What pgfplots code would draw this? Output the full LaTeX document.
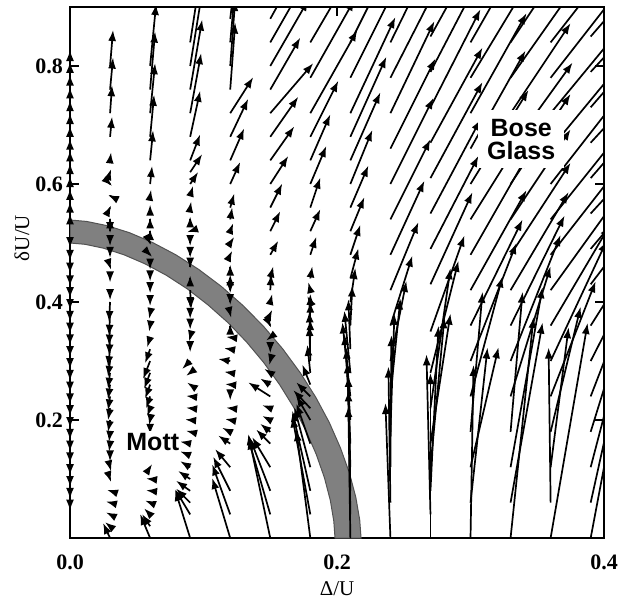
\documentclass[border=0pt]{standalone}
\usepackage{fontspec}
\setmainfont{Liberation Serif}
\newfontfamily\helv{Liberation Sans}
\usepackage{pgfplots}
\pgfplotsset{compat=1.18}
\usetikzlibrary{arrows.meta}

% arrow offsets dx, dy are read in picture pixels (1335 px per unit in x, 590 px per unit in y)
\pgfplotsset{
  flow/.style={
    quiver={u={\thisrow{dx}/1335}, v={\thisrow{dy}/590},
      every arrow/.append style={-{Latex[length=5.5pt,width=4pt]}}},
    black, line width=0.85pt},
  frame/.style={
    scale only axis, width=267pt, height=265.5pt,
    xmin=0, xmax=0.4, ymin=0, ymax=0.9},
}

\begin{document}
\begin{tikzpicture}
\begin{axis}[
  frame,
  axis line style={line width=0.6pt},
  xtick={0,0.2,0.4}, xticklabels={0.0,0.2,0.4},
  ytick={0.2,0.4,0.6,0.8}, yticklabels={0.2,0.4,0.6,0.8},
  tick align=inside, major tick length=4.5pt,
  tick style={line width=0.6pt, black},
  tick label style={font=\bfseries\fontsize{11}{13}\selectfont},
  xticklabel style={yshift=-5pt},
  xlabel={Δ/U}, ylabel={δU/U},
  label style={font=\fontsize{10.5}{12}\selectfont},
  x label style={at={(axis description cs:0.5,-0.096)}, anchor=center},
  y label style={at={(axis description cs:-0.09,0.565)}, anchor=center},
]
\coordinate (bbSW) at (rel axis cs:-0.1311,-0.1149);
\coordinate (bbNE) at (rel axis cs:1.0262,1.0132);

% separatrix band
\addplot[fill=black!50, draw=black!68, line width=0.5pt] coordinates {
 (0.2180,0) (0.2170,0.0306) (0.2141,0.0688) (0.2093,0.1100) (0.2026,0.1526)
 (0.1942,0.1958) (0.1841,0.2385) (0.1724,0.2803) (0.1593,0.3206) (0.1450,0.3586)
 (0.1296,0.3940) (0.1134,0.4263) (0.0965,0.4551) (0.0792,0.4801) (0.0617,0.5010)
 (0.0445,0.5175) (0.0278,0.5294) (0.0124,0.5366) (0,0.5390)
 (0,0.5) (0.0113,0.4978) (0.0253,0.4911) (0.0405,0.4800) (0.0562,0.4647)
 (0.0721,0.4454) (0.0879,0.4222) (0.1032,0.3954) (0.1181,0.3655) (0.1321,0.3326)
 (0.1451,0.2974) (0.1570,0.2600) (0.1676,0.2213) (0.1768,0.1816) (0.1845,0.1416)
 (0.1906,0.1020) (0.1950,0.0638) (0.1976,0.0284) (0.1985,0)
} --cycle;

% column 0.03
\addplot[flow] table[row sep=\\] {x y dx dy\\
0.03 0.00 -7 15\\ 0.03 0.02 -5 4\\ 0.03 0.04 -4 2\\ 0.03 0.06 -4 1\\ 0.03 0.08 -3 1\\
0.03 0.10 1 -3\\ 0.03 0.12 1 -4\\ 0.03 0.14 0 -6\\ 0.03 0.16 -1 -8\\ 0.03 0.18 -1 -10\\
0.03 0.20 -2 -12\\ 0.03 0.22 -2 -12\\ 0.03 0.24 -2 -14\\ 0.03 0.26 -2 -15\\ 0.03 0.28 -2 -16\\
0.03 0.30 -2 -16\\ 0.03 0.32 -2 -18\\ 0.03 0.34 -1 -18\\ 0.03 0.36 -1 -20\\ 0.03 0.38 -1 -22\\
0.03 0.40 -1 -20\\ 0.03 0.42 0 -10\\ 0.03 0.44 0 -4\\ 0.03 0.46 1 -3\\ 0.03 0.48 0 -3\\
0.03 0.50 0 -3\\ 0.03 0.52 0 -2\\ 0.03 0.54 0 2\\ 0.03 0.56 1 2\\ 0.03 0.58 -2 1\\
0.03 0.60 2 -2\\ 0.03 0.62 1 3\\ 0.03 0.64 1 8\\ 0.03 0.68 2 20\\ 0.03 0.72 2 28\\
0.03 0.76 3 32\\ 0.03 0.80 3 36\\
};
% column 0.06
\addplot[flow] table[row sep=\\] {x y dx dy\\
0.06 0.00 -10 24\\ 0.06 0.02 -8 12\\ 0.06 0.04 -6 6\\ 0.06 0.06 -5 2\\ 0.06 0.08 -4 0.5\\
0.06 0.10 -4 0.5\\ 0.06 0.12 2 3\\ 0.06 0.18 0 -3\\ 0.06 0.20 -1 -5\\ 0.06 0.22 -3 -8\\
0.06 0.24 -4 -12\\ 0.06 0.26 -5 -14\\ 0.06 0.28 -6 -16\\ 0.06 0.30 -7 -18\\ 0.06 0.32 -5 -14\\
0.06 0.34 -3 -10\\ 0.06 0.36 -1 -6\\ 0.06 0.38 -1 -5\\ 0.06 0.40 0 -4\\ 0.06 0.42 0 -3\\
0.06 0.44 0 -3\\ 0.06 0.46 0 -3\\ 0.06 0.48 2 -2\\ 0.06 0.50 1 -2\\ 0.06 0.52 0 2\\
0.06 0.54 0 2\\ 0.06 0.56 0 3\\ 0.06 0.58 1 6\\ 0.06 0.60 2 18\\ 0.06 0.64 3 30\\
0.06 0.68 4 42\\ 0.06 0.72 5 50\\ 0.06 0.76 5 58\\ 0.06 0.80 6 62\\
};
% column 0.09
\addplot[flow] table[row sep=\\] {x y dx dy\\
0.09 0.00 -15 48\\ 0.09 0.04 -15 25\\ 0.09 0.06 -14 14\\ 0.09 0.08 -14 10\\
0.09 0.10 -12 8\\ 0.09 0.12 -10 6\\ 0.09 0.14 -10 4\\ 0.09 0.16 -10 2\\ 0.09 0.18 -4 1\\
0.09 0.20 -5 0.5\\ 0.09 0.22 -4 0.5\\ 0.09 0.24 -4 0.5\\ 0.09 0.26 -3 2\\ 0.09 0.28 -4 -3\\
0.09 0.30 -8 -8\\ 0.09 0.32 0 -3\\ 0.09 0.34 -1 -4\\ 0.09 0.36 0 -4\\ 0.09 0.38 0 -5\\
0.09 0.40 0 -6\\ 0.09 0.42 1 -19\\ 0.09 0.44 0 3\\ 0.09 0.46 0 -2\\ 0.09 0.48 0 -3\\
0.09 0.50 0 -3\\ 0.09 0.52 -3 -1\\ 0.09 0.54 0 3\\ 0.09 0.56 1 6\\ 0.09 0.58 3 10\\
0.09 0.60 8 12\\ 0.09 0.62 12 18\\ 0.09 0.64 10 26\\ 0.09 0.68 10 46\\ 0.09 0.72 11 60\\
0.09 0.76 12 70\\ 0.09 0.80 12 74\\ 0.09 0.84 12 78\\
};
% column 0.12
\addplot[flow] table[row sep=\\] {x y dx dy\\
0.12 0.00 -18 60\\ 0.12 0.04 -18 50\\ 0.12 0.08 -17 34\\
0.12 0.12 -15 18\\ 0.12 0.16 -12 8\\ 0.12 0.18 -8 4\\
0.12 0.20 -5 1\\ 0.12 0.22 -4 0.5\\ 0.12 0.24 0 -4\\ 0.12 0.26 -5 0.5\\ 0.12 0.28 -6 1\\
0.12 0.30 -12 2\\ 0.12 0.32 -6 1\\ 0.12 0.34 -4 0.5\\ 0.12 0.36 0 2\\ 0.12 0.38 1 -4\\
0.12 0.40 0 -3\\ 0.12 0.42 0 -3\\ 0.12 0.44 0 4\\ 0.12 0.46 0 2\\ 0.12 0.48 2 4\\
0.12 0.50 4 6\\ 0.12 0.52 3 8\\ 0.12 0.54 2 12\\ 0.12 0.56 4 14\\ 0.12 0.60 10 22\\
0.12 0.64 14 32\\ 0.12 0.68 18 38\\ 0.12 0.72 23 36\\ 0.12 0.76 5 67\\ 0.12 0.80 5 66\\
0.12 0.84 6 66\\ 0.12 0.88 8 66\\
};
% column 0.15
\addplot[flow] table[row sep=\\] {x y dx dy\\
0.15 0.00 -22 104\\ 0.15 0.04 -22 76\\ 0.15 0.08 -20 52\\
0.15 0.12 -18 30\\ 0.15 0.16 -14 14\\ 0.15 0.18 -10 8\\
0.15 0.20 -8 4\\ 0.15 0.22 -8 3\\ 0.15 0.24 -22 14\\ 0.15 0.26 -10 6\\ 0.15 0.28 -6 4\\
0.15 0.30 -1 -4\\ 0.15 0.32 0 -4\\ 0.15 0.34 -4 -3\\ 0.15 0.36 1 -2\\ 0.15 0.38 2 4\\
0.15 0.40 2 8\\ 0.15 0.42 1 16\\ 0.15 0.44 3 12\\ 0.15 0.48 8 14\\ 0.15 0.52 10 20\\
0.15 0.56 12 24\\ 0.15 0.60 18 28\\ 0.15 0.64 24 34\\ 0.15 0.68 28 40\\ 0.15 0.72 43 50\\
0.15 0.76 30 52\\ 0.15 0.80 38 66\\ 0.15 0.84 40 70\\ 0.15 0.88 40 72\\
};
% column 0.18
\addplot[flow] table[row sep=\\] {x y dx dy\\
0.18 0.00 -14 108\\ 0.18 0.04 -18 98\\ 0.18 0.08 -18 80\\
0.18 0.12 -16 60\\ 0.18 0.16 -14 40\\
0.18 0.20 -14 24\\ 0.18 0.22 -17 18\\ 0.18 0.24 -14 14\\ 0.18 0.26 -8 20\\ 0.18 0.28 -3 28\\
0.18 0.30 -1 36\\ 0.18 0.32 0 30\\ 0.18 0.34 -1 26\\ 0.18 0.36 0 24\\ 0.18 0.38 0 20\\
0.18 0.40 -3 6\\ 0.18 0.42 -2 8\\ 0.18 0.44 2 12\\ 0.18 0.48 6 18\\ 0.18 0.52 10 22\\
0.18 0.56 10 30\\ 0.18 0.60 16 38\\ 0.18 0.64 20 46\\ 0.18 0.68 28 56\\ 0.18 0.72 47 83\\
0.18 0.78 44 78\\ 0.18 0.84 48 82\\
};
% column 0.21
\addplot[flow] table[row sep=\\] {x y dx dy\\
0.21 0.00 -2 132\\ 0.21 0.04 -2 124\\ 0.21 0.08 -2 115\\ 0.21 0.12 -3 105\\ 0.21 0.16 -4 96\\
0.21 0.20 -6 86\\ 0.21 0.24 -8 74\\ 0.21 0.28 -6 62\\ 0.21 0.32 -2 50\\ 0.21 0.36 2 40\\
0.21 0.40 5 34\\ 0.21 0.44 8 30\\ 0.21 0.48 10 30\\ 0.21 0.52 14 34\\ 0.21 0.56 18 42\\
0.21 0.60 22 54\\ 0.21 0.64 30 68\\ 0.21 0.68 36 80\\ 0.21 0.72 45 96\\ 0.21 0.78 46 92\\
0.21 0.84 46 92\\
};
% column 0.24
\addplot[flow] table[row sep=\\] {x y dx dy\\
0.24 0.00 -5 135\\ 0.24 0.06 -2 136\\ 0.24 0.12 1 132\\ 0.24 0.18 4 118\\ 0.24 0.24 10 98\\
0.24 0.30 16 80\\ 0.24 0.36 22 70\\ 0.24 0.42 28 68\\ 0.24 0.48 34 74\\ 0.24 0.54 40 80\\
0.24 0.60 43 86\\ 0.24 0.66 45 90\\ 0.24 0.72 44 92\\ 0.24 0.78 47 92\\ 0.24 0.84 45 92\\
};
% column 0.27
\addplot[flow] table[row sep=\\] {x y dx dy\\
0.27 0.00 0 165\\ 0.27 0.04 -4 160\\ 0.27 0.08 8 165\\ 0.27 0.12 14 150\\ 0.27 0.16 20 130\\
0.27 0.22 20 140\\ 0.27 0.28 28 112\\ 0.27 0.35 34 96\\ 0.27 0.43 42 92\\ 0.27 0.49 48 93\\
0.27 0.55 50 94\\ 0.27 0.61 52 96\\ 0.27 0.67 52 95\\ 0.27 0.73 50 98\\ 0.27 0.79 50 96\\
0.27 0.85 52 94\\
};
% column 0.30
\addplot[flow] table[row sep=\\] {x y dx dy\\
0.30 0.00 3 173\\ 0.30 0.06 17 155\\ 0.30 0.12 28 120\\ 0.30 0.18 12 140\\ 0.30 0.24 32 120\\
0.30 0.30 46 118\\ 0.30 0.36 52 106\\ 0.30 0.42 56 100\\ 0.30 0.48 56 98\\ 0.30 0.54 60 96\\
0.30 0.60 58 94\\ 0.30 0.66 55 98\\ 0.30 0.72 56 100\\ 0.30 0.78 58 96\\ 0.30 0.84 56 98\\
};
% column 0.33
\addplot[flow] table[row sep=\\] {x y dx dy\\
0.33 0.00 23 221\\ 0.33 0.06 32 180\\ 0.33 0.12 32 180\\ 0.33 0.18 12 140\\ 0.33 0.24 40 130\\
0.33 0.30 50 126\\ 0.33 0.36 54 110\\ 0.33 0.42 58 98\\ 0.33 0.48 60 92\\ 0.33 0.54 60 90\\
0.33 0.60 60 90\\ 0.33 0.66 62 86\\ 0.33 0.72 60 90\\ 0.33 0.78 62 88\\ 0.33 0.84 60 90\\
};
% column 0.36
\addplot[flow] table[row sep=\\] {x y dx dy\\
0.36 0.00 37 215\\ 0.36 0.06 -2 155\\ 0.36 0.12 18 140\\ 0.36 0.18 30 125\\ 0.36 0.24 45 115\\
0.36 0.30 56 120\\ 0.36 0.36 59 100\\ 0.36 0.42 62 86\\ 0.36 0.48 64 82\\ 0.36 0.54 64 80\\
0.36 0.60 64 82\\ 0.36 0.66 66 80\\ 0.36 0.72 66 80\\ 0.36 0.78 64 82\\ 0.36 0.84 64 82\\
};
% column 0.39
\addplot[flow] table[row sep=\\] {x y dx dy\\
0.39 0.00 40 212\\ 0.39 0.06 43 194\\ 0.39 0.12 46 176\\ 0.39 0.18 49 158\\ 0.39 0.24 54 140\\
0.39 0.30 60 118\\ 0.39 0.36 62 98\\ 0.39 0.43 64 84\\ 0.39 0.49 66 78\\ 0.39 0.55 68 74\\
0.39 0.61 66 76\\ 0.39 0.67 68 74\\ 0.39 0.73 66 76\\ 0.39 0.79 68 74\\ 0.39 0.85 66 76\\
};

\node[font=\helv\bfseries\fontsize{12.5}{14}\selectfont, fill=white, inner sep=1pt]
  at (axis cs:0.062,0.163) {Mott};
\node[font=\helv\bfseries\fontsize{12.5}{11.5}\selectfont, fill=white, align=center, inner sep=4.5pt]
  at (axis cs:0.338,0.676) {Bose\\Glass};
\end{axis}

% arrows along the delta = 0 axis, drawn unclipped over the frame
\begin{axis}[frame, hide axis, clip=false]
\addplot[flow] table[row sep=\\] {x y dx dy\\
0 0.06 0 -8\\ 0 0.08 0 -8\\ 0 0.10 0 -8\\ 0 0.12 0 -8\\ 0 0.14 0 -8\\ 0 0.16 0 -8\\
0 0.18 0 -8\\ 0 0.20 0 -8\\ 0 0.22 0 -8\\ 0 0.24 0 -8\\ 0 0.26 0 -8\\ 0 0.28 0 -8\\
0 0.30 0 -8\\ 0 0.32 0 -8\\ 0 0.34 0 -8\\ 0 0.36 0 -8\\ 0 0.38 0 -8\\ 0 0.40 0 -8\\
0 0.42 0 -8\\ 0 0.44 0 -8\\ 0 0.46 0 -7\\ 0 0.48 0 -6\\ 0 0.50 0 -5\\
0 0.54 0 6\\ 0 0.56 0 6\\ 0 0.58 0 7\\ 0 0.60 0 8\\ 0 0.62 0 9\\ 0 0.64 0 10\\
0 0.66 0 10\\ 0 0.68 0 11\\ 0 0.70 0 12\\ 0 0.72 0 13\\ 0 0.74 0 14\\ 0 0.76 0 15\\
0 0.78 0 16\\ 0 0.80 0 16\\
};
\end{axis}
\pgfresetboundingbox
\path (bbSW) rectangle (bbNE);
\end{tikzpicture}
\end{document}
